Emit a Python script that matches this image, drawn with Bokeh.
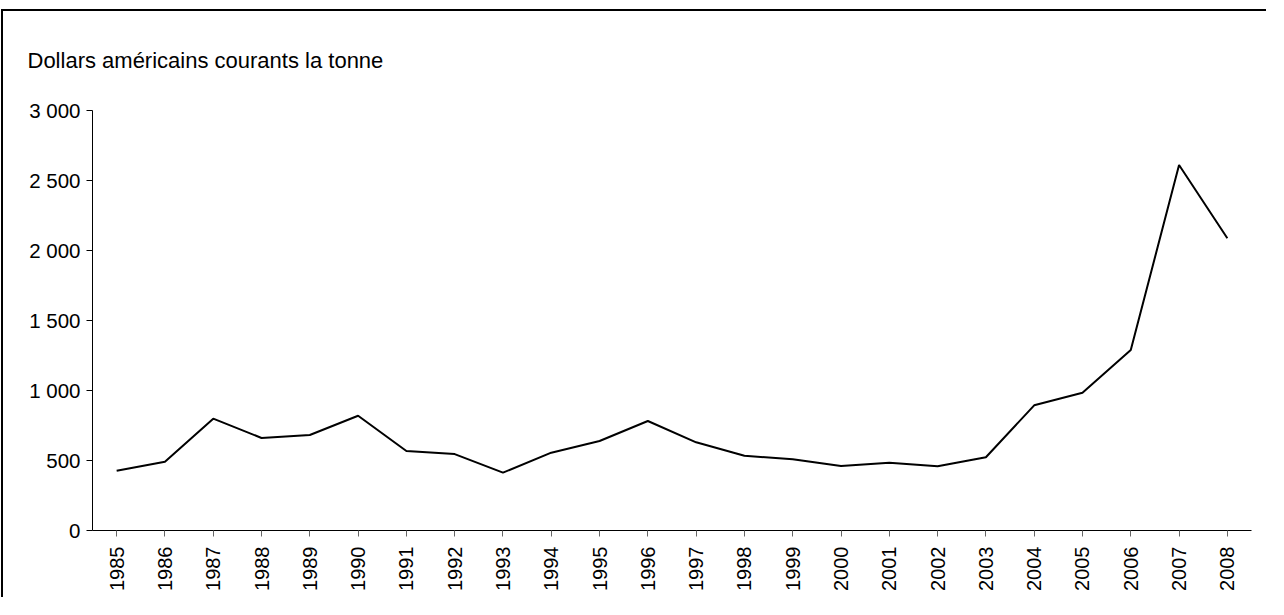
from bokeh.plotting import figure
from bokeh.models import Title, FixedTicker, Range1d
from bokeh.embed import file_html
from bokeh.resources import INLINE
import math

years = [str(y) for y in range(1985, 2009)]
prices = [427, 491, 799, 661, 682, 820, 568, 546, 413, 556, 639, 782,
          630, 534, 509, 461, 484, 459, 523, 894, 984, 1289, 2611, 2087]
y_ticks = [0, 500, 1000, 1500, 2000, 2500, 3000]
y_tick_labels = ["0", "500", "1 000", "1 500", "2 000", "2 500", "3 000"]
unit_label = "Dollars américains courants la tonne"

FONT = "Liberation Sans"

p = figure(x_range=years, y_range=Range1d(0, 3000), width=1265, height=588,
           output_backend="svg", toolbar_location=None,
           min_border_left=89, min_border_right=17, min_border_top=99, min_border_bottom=69)
p.x_range.range_padding = 0
p.styles = {"border-left": "2px solid black", "border-top": "2px solid black",
            "margin-top": "9px", "margin-left": "1px"}

p.title = Title(text=unit_label, align="left", offset=-65, standoff=71,
                vertical_align="top",
                text_font=FONT, text_font_size="22px", text_font_style="normal",
                text_color="black")

p.line(years, prices, line_color="black", line_width=2)

p.xgrid.grid_line_color = None
p.ygrid.grid_line_color = None
p.outline_line_color = None
p.background_fill_color = "white"
p.border_fill_color = "white"

ya = p.yaxis[0]
ya.ticker = FixedTicker(ticks=y_ticks)
ya.major_label_overrides = {t: l for t, l in zip(y_ticks, y_tick_labels)}
ya.major_tick_out = 6
ya.major_tick_in = 0
ya.minor_tick_out = 0
ya.minor_tick_in = 0
ya.major_label_standoff = 6
ya.major_label_text_font = FONT
ya.major_label_text_font_size = "20.5px"
ya.major_label_text_color = "black"
ya.axis_line_color = "black"
ya.major_tick_line_color = "black"

xa = p.xaxis[0]
xa.major_label_orientation = math.pi / 2
xa.major_tick_out = 6
xa.major_tick_in = 0
xa.major_label_standoff = 10
xa.major_label_text_font = FONT
xa.major_label_text_font_size = "20px"
xa.major_label_text_color = "black"
xa.axis_line_color = "black"
xa.major_tick_line_color = "#666666"

open("out.html", "w").write(file_html(p, INLINE))
